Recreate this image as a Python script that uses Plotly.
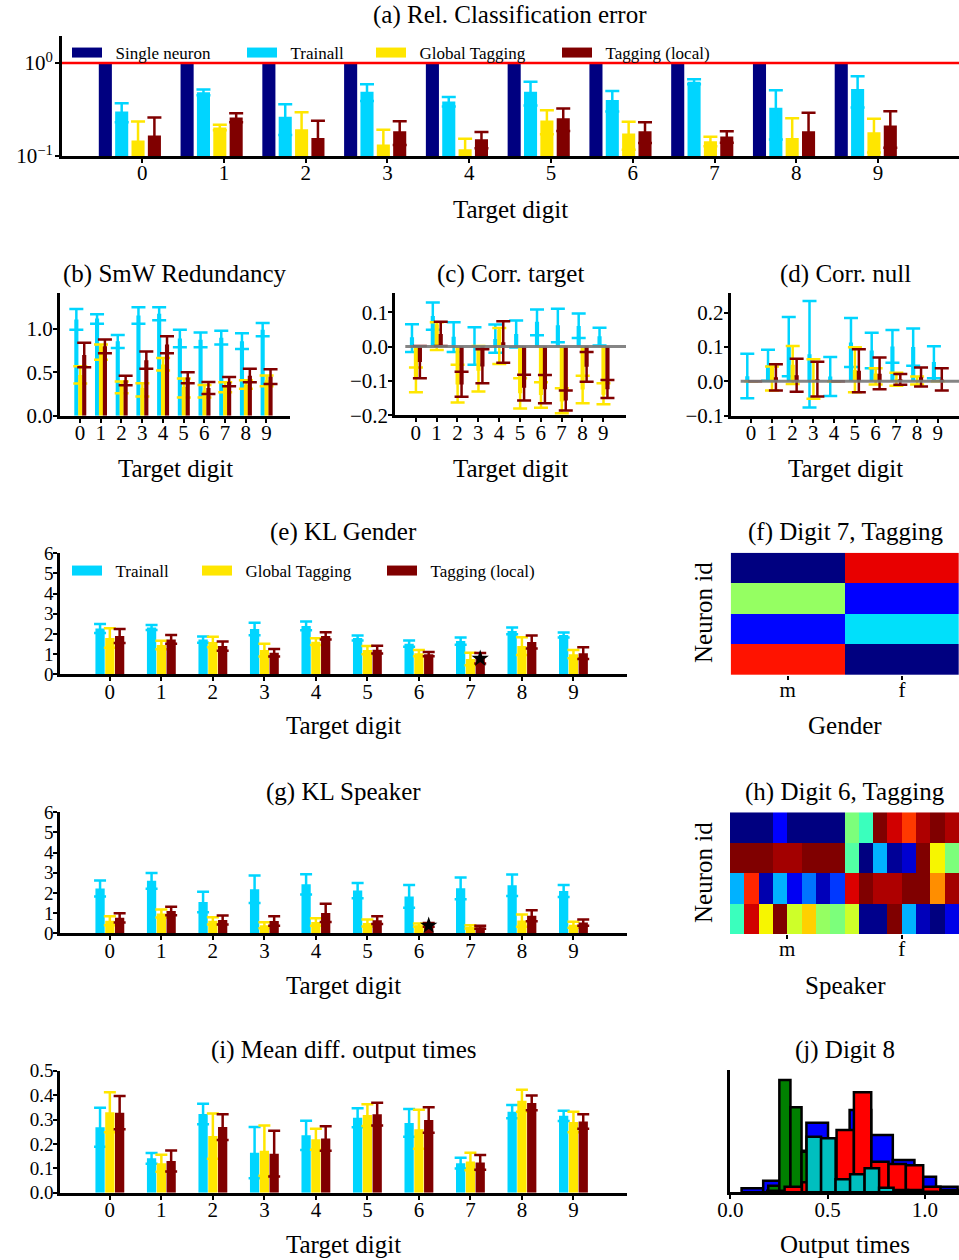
import plotly.graph_objects as go

W, H = 959, 1260
DIGITS = list(range(10))

# ---------------- (a) Rel. classification error ----------------
A_SINGLE = [1.0] * 10
A_TRAIN = [0.30, 0.485, 0.264, 0.49, 0.385, 0.49, 0.40, 0.63, 0.33, 0.526]
A_TRAIN_ERR = [0.07, 0.035, 0.096, 0.10, 0.045, 0.14, 0.10, 0.04, 0.18, 0.194]
A_GLOB = [0.147, 0.203, 0.194, 0.133, 0.118, 0.241, 0.175, 0.144, 0.156, 0.18]
A_GLOB_ERR = [0.088, 0.014, 0.102, 0.058, 0.035, 0.07, 0.058, 0.017, 0.099, 0.071]
A_LOC = [0.166, 0.26, 0.156, 0.184, 0.151, 0.255, 0.184, 0.162, 0.184, 0.213]
A_LOC_ERR = [0.094, 0.029, 0.083, 0.053, 0.03, 0.069, 0.046, 0.023, 0.107, 0.09]

# ---------------- (b) SmW redundancy (mean, upper, lower) ----------------
B_TRAIN = [1.11, 1.12, 0.86, 1.155, 1.175, 0.89, 0.875, 0.90, 0.86, 0.99]
B_TRAIN_HI = [1.23, 1.17, 0.93, 1.25, 1.25, 0.99, 0.96, 0.98, 0.95, 1.07]
B_TRAIN_LO = [0.99, 1.06, 0.78, 1.06, 1.10, 0.79, 0.79, 0.82, 0.77, 0.915]
B_GLOB = [0.47, 0.80, 0.37, 0.32, 0.59, 0.33, 0.29, 0.33, 0.36, 0.41]
B_GLOB_HI = [0.57, 0.82, 0.395, 0.375, 0.665, 0.43, 0.355, 0.385, 0.41, 0.465]
B_GLOB_LO = [0.37, 0.645, 0.26, 0.22, 0.52, 0.21, 0.21, 0.27, 0.31, 0.34]
B_LOC = [0.70, 0.80, 0.41, 0.64, 0.82, 0.44, 0.32, 0.39, 0.46, 0.45]
B_LOC_HI = [0.84, 0.88, 0.46, 0.74, 0.915, 0.50, 0.39, 0.445, 0.54, 0.535]
B_LOC_LO = [0.56, 0.72, 0.35, 0.54, 0.72, 0.375, 0.25, 0.34, 0.385, 0.365]

# ---------------- (c) Corr. target ----------------
C_TRAIN = [0.027, 0.089, 0.029, 0.002, 0.022, 0.037, 0.072, 0.062, 0.060, 0.030]
C_TRAIN_HI = [0.065, 0.128, 0.071, 0.056, 0.064, 0.076, 0.108, 0.110, 0.096, 0.055]
C_TRAIN_LO = [-0.016, 0.049, -0.016, -0.053, -0.018, -0.003, 0.033, 0.013, 0.025, 0.003]
C_GLOB = [-0.095, 0.065, -0.11, -0.07, 0.05, -0.136, -0.141, -0.16, -0.125, -0.14]
C_GLOB_HI = [-0.061, 0.071, -0.053, 0.002, 0.054, -0.092, -0.104, -0.121, -0.085, -0.107]
C_GLOB_LO = [-0.133, -0.01, -0.163, -0.131, -0.051, -0.18, -0.178, -0.194, -0.165, -0.168]
C_LOC = [-0.045, 0.037, -0.11, -0.058, 0.013, -0.12, -0.124, -0.157, -0.059, -0.124]
C_LOC_HI = [0.002, 0.072, -0.073, -0.008, 0.074, -0.082, -0.083, -0.128, -0.016, -0.097]
C_LOC_LO = [-0.092, 0.002, -0.146, -0.107, -0.047, -0.157, -0.165, -0.186, -0.102, -0.150]

# ---------------- (d) Corr. null ----------------
D_TRAIN = [0.015, 0.047, 0.101, 0.079, 0.014, 0.113, 0.09, 0.101, 0.10, 0.056]
D_TRAIN_HI = [0.08, 0.092, 0.187, 0.234, 0.071, 0.184, 0.141, 0.149, 0.154, 0.102]
D_TRAIN_LO = [-0.049, 0.002, 0.015, -0.076, -0.043, 0.042, 0.038, 0.054, 0.045, 0.009]
D_GLOB = [0.0, 0.04, 0.048, 0.006, 0.0, 0.033, 0.023, 0.006, 0.002, 0.0]
D_GLOB_HI = [0.0, 0.043, 0.103, 0.064, 0.0, 0.099, 0.038, 0.025, 0.014, 0.0]
D_GLOB_LO = [0.0, -0.027, -0.008, -0.051, 0.0, -0.032, -0.009, -0.013, -0.009, 0.0]
D_LOC = [0.0, 0.012, 0.018, 0.006, 0.0, 0.031, 0.022, 0.006, 0.012, 0.005]
D_LOC_HI = [0.0, 0.05, 0.066, 0.057, 0.0, 0.093, 0.069, 0.021, 0.04, 0.038]
D_LOC_LO = [0.0, -0.027, -0.03, -0.044, 0.0, -0.032, -0.023, -0.01, -0.015, -0.027]

# ---------------- (e) KL gender ----------------
E_TRAIN = [2.27, 2.32, 1.72, 2.25, 2.40, 1.80, 1.52, 1.65, 2.15, 1.95]
E_TRAIN_ERR = [0.22, 0.12, 0.15, 0.31, 0.22, 0.12, 0.15, 0.18, 0.17, 0.12]
E_GLOB = [1.80, 1.45, 1.60, 1.20, 1.62, 1.20, 1.05, 0.76, 1.40, 1.00]
E_GLOB_ERR = [0.48, 0.21, 0.26, 0.32, 0.17, 0.20, 0.15, 0.31, 0.44, 0.20]
E_LOC = [1.90, 1.73, 1.40, 1.07, 1.90, 1.22, 1.00, 0.80, 1.60, 1.05]
E_LOC_ERR = [0.35, 0.22, 0.23, 0.19, 0.18, 0.19, 0.10, 0.26, 0.32, 0.29]
E_STAR = (7, 0.78)

# ---------------- (g) KL speaker ----------------
G_TRAIN = [2.22, 2.60, 1.55, 2.18, 2.43, 2.12, 1.83, 2.23, 2.38, 2.10]
G_TRAIN_ERR = [0.40, 0.39, 0.51, 0.68, 0.50, 0.38, 0.56, 0.54, 0.53, 0.30]
G_GLOB = [0.62, 0.98, 0.62, 0.40, 0.56, 0.51, 0.40, 0.32, 0.63, 0.42]
G_GLOB_ERR = [0.22, 0.20, 0.18, 0.15, 0.19, 0.17, 0.08, 0.08, 0.30, 0.15]
G_LOC = [0.77, 1.11, 0.66, 0.61, 1.01, 0.65, 0.42, 0.30, 0.87, 0.53]
G_LOC_ERR = [0.23, 0.21, 0.22, 0.23, 0.45, 0.19, 0.09, 0.07, 0.27, 0.16]
G_STAR = (6, 0.38)

# ---------------- (i) Mean diff. output times ----------------
I_TRAIN = [0.268, 0.141, 0.323, 0.164, 0.235, 0.307, 0.286, 0.121, 0.332, 0.315]
I_TRAIN_ERR = [0.08, 0.022, 0.042, 0.105, 0.06, 0.039, 0.057, 0.022, 0.027, 0.021]
I_GLOB = [0.33, 0.121, 0.232, 0.172, 0.219, 0.318, 0.26, 0.128, 0.377, 0.29]
I_GLOB_ERR = [0.082, 0.035, 0.093, 0.103, 0.043, 0.045, 0.08, 0.036, 0.045, 0.042]
I_LOC = [0.328, 0.13, 0.269, 0.16, 0.222, 0.322, 0.298, 0.124, 0.368, 0.292]
I_LOC_ERR = [0.068, 0.043, 0.053, 0.094, 0.05, 0.047, 0.052, 0.03, 0.03, 0.03]

# ---------------- (f) heatmap, digit 7 ----------------
F_COLS = ["m", "f"]
F_Z = [[0.00, 0.91],
       [0.53, 0.12],
       [0.13, 0.345],
       [0.89, 0.00]]

# ---------------- (h) heatmap, digit 6 (8 male + 8 female speakers) ----------------
H_Z = [[0.00, 0.00, 0.00, 0.12, 0.00, 0.00, 0.00, 0.00, 0.50, 0.42, 1.00, 0.93, 0.85, 0.96, 1.00, 0.96],
       [1.00, 1.00, 1.00, 0.97, 0.97, 1.00, 1.00, 1.00, 0.45, 0.00, 0.30, 0.02, 0.07, 1.00, 0.65, 0.50],
       [0.30, 0.87, 0.04, 0.30, 0.10, 0.24, 0.05, 0.18, 0.92, 1.00, 0.96, 0.96, 1.00, 1.00, 0.76, 0.97],
       [0.42, 0.93, 0.65, 1.00, 0.60, 0.69, 0.53, 0.50, 0.60, 0.01, 0.01, 1.00, 0.30, 0.05, 0.00, 0.09]]
H_TICKS = [3.5, 11.5]
H_TICKTEXT = ["m", "f"]

# ---------------- (j) histograms of output times, digit 8 ----------------
J_BLUE_START, J_BLUE_W = 0.058, 0.111
J_BLUE = [12, 35, 125, 209, 150, 247, 172, 97, 47, 17]
J_GREEN_START, J_GREEN_W = 0.195, 0.057
J_GREEN = [20, 337, 255, 122, 30]
J_RED_START, J_RED_W = 0.190, 0.089
J_RED = [5, 17, 30, 60, 187, 300, 92, 85, 81, 17, 7]
J_CYAN_START, J_CYAN_W = 0.392, 0.0745
J_CYAN = [167, 162, 39, 54, 72, 14, 7, 7, 2]

NAVY = "rgb(0,0,128)"
CYAN = "rgb(0,213,255)"
YELLOW = "rgb(255,230,0)"
DRED = "rgb(128,0,0)"

JET = [[0.0, "rgb(0,0,128)"], [0.11, "rgb(0,0,255)"], [0.125, "rgb(0,0,255)"],
       [0.34, "rgb(0,219,255)"], [0.35, "rgb(0,230,247)"], [0.375, "rgb(21,255,226)"],
       [0.64, "rgb(239,255,8)"], [0.65, "rgb(247,246,0)"], [0.66, "rgb(255,236,0)"],
       [0.89, "rgb(255,19,0)"], [0.91, "rgb(232,0,0)"], [1.0, "rgb(128,0,0)"]]

FONT = "Liberation Serif"
TICKF = dict(family=FONT, size=21, color="black")
TICKF_S = dict(family=FONT, size=19, color="black")
NBSP = "\u00a0"


def px_x(p):
    return p / W


def px_y(p):
    return 1 - p / H


fig = go.Figure()


def add_bar(ax, y, color, offset, width, plus, minus=None, capw=6, thick=2.5):
    ed = dict(type="data", array=plus, color=color, thickness=thick, width=capw, visible=True)
    if minus is not None:
        ed["symmetric"] = False
        ed["arrayminus"] = minus
    fig.add_trace(go.Bar(x=DIGITS, y=y, offset=offset, width=width,
                         marker=dict(color=color, line=dict(width=0)),
                         error_y=ed, xaxis="x" + ax, yaxis="y" + ax, showlegend=False))


def diff(a, b):
    return [x - y for x, y in zip(a, b)]


# (a)
OFF4 = [-0.53, -0.33, -0.13, 0.07]
fig.add_trace(go.Bar(x=DIGITS, y=A_SINGLE, offset=OFF4[0], width=0.16,
                     marker=dict(color=NAVY, line=dict(width=0)),
                     xaxis="x", yaxis="y", showlegend=False))
add_bar("", A_TRAIN, CYAN, OFF4[1], 0.16, A_TRAIN_ERR, capw=7)
add_bar("", A_GLOB, YELLOW, OFF4[2], 0.16, A_GLOB_ERR, capw=7)
add_bar("", A_LOC, DRED, OFF4[3], 0.16, A_LOC_ERR, capw=7)
fig.add_trace(go.Scatter(x=[-2, 12], y=[1, 1], mode="lines", line=dict(color="red", width=2.5),
                         xaxis="x", yaxis="y", showlegend=False, hoverinfo="skip"))

OFF3 = [-0.28, -0.09, 0.10]
BW = 0.18
# (b)(c)(d)
for ax, series in [("2", [(B_TRAIN, B_TRAIN_HI, B_TRAIN_LO, CYAN), (B_GLOB, B_GLOB_HI, B_GLOB_LO, YELLOW),
                          (B_LOC, B_LOC_HI, B_LOC_LO, DRED)]),
                   ("3", [(C_TRAIN, C_TRAIN_HI, C_TRAIN_LO, CYAN), (C_GLOB, C_GLOB_HI, C_GLOB_LO, YELLOW),
                          (C_LOC, C_LOC_HI, C_LOC_LO, DRED)]),
                   ("4", [(D_TRAIN, D_TRAIN_HI, D_TRAIN_LO, CYAN), (D_GLOB, D_GLOB_HI, D_GLOB_LO, YELLOW),
                          (D_LOC, D_LOC_HI, D_LOC_LO, DRED)])]:
    for k, (m, hi, lo, col) in enumerate(series):
        add_bar(ax, m, col, OFF3[k], 0.2, diff(hi, m), diff(m, lo), capw=7)
    if ax in ("3", "4"):
        fig.add_trace(go.Scatter(x=[-0.5, 12], y=[0, 0], mode="lines",
                                 line=dict(color="rgba(120,120,120,0.9)", width=3),
                                 xaxis="x" + ax, yaxis="y" + ax, showlegend=False, hoverinfo="skip"))

# (e)(g)(i)
for ax, series, star in [("5", [(E_TRAIN, E_TRAIN_ERR, CYAN), (E_GLOB, E_GLOB_ERR, YELLOW), (E_LOC, E_LOC_ERR, DRED)], E_STAR),
                         ("7", [(G_TRAIN, G_TRAIN_ERR, CYAN), (G_GLOB, G_GLOB_ERR, YELLOW), (G_LOC, G_LOC_ERR, DRED)], G_STAR),
                         ("9", [(I_TRAIN, I_TRAIN_ERR, CYAN), (I_GLOB, I_GLOB_ERR, YELLOW), (I_LOC, I_LOC_ERR, DRED)], None)]:
    for k, (m, e, col) in enumerate(series):
        add_bar(ax, m, col, OFF3[k], BW, e, capw=6)
    if star is not None:
        fig.add_trace(go.Scatter(x=[star[0] + OFF3[2] + BW / 2], y=[star[1]], mode="markers",
                                 marker=dict(symbol="star", size=13, color="black"),
                                 xaxis="x" + ax, yaxis="y" + ax, showlegend=False))

# (f) heatmap
fig.add_trace(go.Heatmap(z=F_Z, x=[0, 1], y=[0, 1, 2, 3], colorscale=JET, zmin=0, zmax=1,
                         showscale=False, xaxis="x6", yaxis="y6"))
# (h) heatmap
fig.add_trace(go.Heatmap(z=H_Z, x=list(range(16)), y=[0, 1, 2, 3], colorscale=JET, zmin=0, zmax=1,
                         showscale=False, xaxis="x8", yaxis="y8"))

# (j) histograms
for start, w, counts, col in [(J_BLUE_START, J_BLUE_W, J_BLUE, "rgb(0,0,255)"),
                              (J_GREEN_START, J_GREEN_W, J_GREEN, "rgb(0,128,0)"),
                              (J_RED_START, J_RED_W, J_RED, "rgb(255,0,0)"),
                              (J_CYAN_START, J_CYAN_W, J_CYAN, "rgb(0,191,191)")]:
    lefts = [start + i * w for i in range(len(counts))]
    fig.add_trace(go.Bar(x=lefts, y=counts, offset=0, width=w,
                         marker=dict(color=col, line=dict(color="black", width=2.5)),
                         xaxis="x10", yaxis="y10", showlegend=False))

# legends (one per entry so they can be placed like the original)
LEG_A = [("Single neuron", NAVY, 72), ("Trainall", CYAN, 247), ("Global Tagging", YELLOW, 376),
         ("Tagging (local)", DRED, 562)]
LEG_E = [("Trainall", CYAN, 72), ("Global Tagging", YELLOW, 202), ("Tagging (local)", DRED, 387)]
legend_layout = {}
n = 0
for items, ypx, ax in [(LEG_A, 53, ""), (LEG_E, 571, "5")]:
    for name, col, xpx in items:
        n += 1
        lname = "legend" if n == 1 else "legend%d" % n
        fig.add_trace(go.Scatter(x=[None], y=[None], mode="lines", name=NBSP * 2 + name,
                                 line=dict(color=col, width=12), legend=lname,
                                 xaxis="x" + ax, yaxis="y" + ax, showlegend=True))
        legend_layout[lname] = dict(x=px_x(xpx - 5), y=px_y(ypx), xanchor="left", yanchor="middle",
                                    orientation="h", bgcolor="rgba(0,0,0,0)", borderwidth=0,
                                    font=dict(family=FONT, size=17, color="black"))


def xax(dom_px, rng, anchor, **kw):
    d = dict(domain=[px_x(dom_px[0]), px_x(dom_px[1])], range=rng, anchor=anchor, automargin=False,
             showline=True, linecolor="black", linewidth=3, showgrid=False, zeroline=False,
             ticks="outside", ticklen=4, tickwidth=1.5, tickcolor="black", tickfont=TICKF,
             ticklabelstandoff=-8)
    d.update(kw)
    return d


def yax(dom_px, rng, anchor, **kw):
    d = dict(domain=[px_y(dom_px[1]), px_y(dom_px[0])], range=rng, anchor=anchor, automargin=False,
             showline=True, linecolor="black", linewidth=3, showgrid=False, zeroline=False,
             ticks="outside", ticklen=4, tickwidth=1.5, tickcolor="black", tickfont=TICKF,
             ticklabelstandoff=-4)
    d.update(kw)
    return d


layout_axes = dict(
    xaxis=xax((62, 959), [-0.98, 9.99], "y", tickvals=DIGITS),
    yaxis=yax((36, 156), [-1, 0.29], "x", type="log", tickvals=[0.1, 1],
              ticktext=["10<sup>\u22121</sup>", "10<sup>0</sup>"], ticklabelstandoff=-2),
    xaxis2=xax((60, 290), [-0.97, 10.14], "y2", tickvals=DIGITS),
    yaxis2=yax((293, 415.7), [0, 1.415], "x2", tickvals=[0, 0.5, 1.0], tickformat=".1f"),
    xaxis3=xax((395.3, 626), [-0.98, 10.09], "y3", tickvals=DIGITS),
    yaxis3=yax((293, 415.3), [-0.2, 0.156], "x3", tickvals=[-0.2, -0.1, 0, 0.1], tickformat=".1f"),
    xaxis4=xax((730.7, 959), [-0.98, 10.03], "y4", tickvals=DIGITS),
    yaxis4=yax((293, 415.7), [-0.1, 0.257], "x4", tickvals=[-0.1, 0, 0.1, 0.2], tickformat=".1f"),
    xaxis5=xax((60.4, 626.5), [-0.96, 10.03], "y5", tickvals=DIGITS),
    yaxis5=yax((553.3, 674.3), [0, 6], "x5", tickvals=list(range(7)), tickfont=TICKF_S),
    xaxis7=xax((60.4, 626.5), [-0.96, 10.03], "y7", tickvals=DIGITS),
    yaxis7=yax((812.3, 933.3), [0, 6], "x7", tickvals=list(range(7)), tickfont=TICKF_S),
    xaxis9=xax((60.4, 626.5), [-0.96, 10.03], "y9", tickvals=DIGITS),
    yaxis9=yax((1070.7, 1192.7), [0, 0.5], "x9", tickvals=[0, 0.1, 0.2, 0.3, 0.4, 0.5], tickformat=".1f",
               tickfont=TICKF_S),
    xaxis6=xax((730.7, 959), [-0.5, 1.5], "y6", tickvals=[0, 1], ticktext=F_COLS, showline=False),
    yaxis6=yax((552.7, 675), [3.5, -0.5], "x6", showline=False, ticks="", showticklabels=False),
    xaxis8=xax((730, 959), [-0.5, 15.5], "y8", tickvals=H_TICKS, ticktext=H_TICKTEXT, showline=False),
    yaxis8=yax((812.3, 934), [3.5, -0.5], "x8", showline=False, ticks="", showticklabels=False),
    xaxis10=xax((730.3, 959), [0, 1.175], "y10", tickvals=[0, 0.5, 1.0], tickformat=".1f"),
    yaxis10=yax((1070, 1192.3), [0, 367], "x10", ticks="", showticklabels=False),
)

TITLES = [("(a) Rel. Classification error", 510, 15),
          ("(b) SmW Redundancy", 175, 274), ("(c) Corr. target", 510, 274), ("(d) Corr. null", 845, 274),
          ("(e) KL Gender", 343, 532), ("(f) Digit 7, Tagging", 845, 532),
          ("(g) KL Speaker", 343, 792), ("(h) Digit 6, Tagging", 845, 792),
          ("(i) Mean diff. output times", 343, 1050), ("(j) Digit 8", 845, 1050)]
AXTITLES = [("Target digit", 510, 210), ("Target digit", 175, 468), ("Target digit", 510, 468),
            ("Target digit", 845, 468), ("Target digit", 343, 726), ("Gender", 845, 726),
            ("Target digit", 343, 985), ("Speaker", 845, 985), ("Target digit", 343, 1244),
            ("Output times", 845, 1244)]
annotations = []
for txt, xp, yp in TITLES + AXTITLES:
    annotations.append(dict(text=txt, x=px_x(xp), y=px_y(yp), xref="paper", yref="paper",
                            xanchor="center", yanchor="middle", showarrow=False,
                            font=dict(family=FONT, size=25, color="black")))
for yp in (613, 873):
    annotations.append(dict(text="Neuron id", x=px_x(703), y=px_y(yp), xref="paper", yref="paper",
                            xanchor="center", yanchor="middle", showarrow=False, textangle=-90,
                            font=dict(family=FONT, size=25, color="black")))

fig.update_layout(width=W, height=H, margin=dict(l=0, r=0, t=0, b=0, autoexpand=False),
                  paper_bgcolor="white", plot_bgcolor="white", barmode="overlay",
                  font=dict(family=FONT, color="black"), annotations=annotations,
                  showlegend=True, **layout_axes, **legend_layout)

fig.write_html("out.html")
